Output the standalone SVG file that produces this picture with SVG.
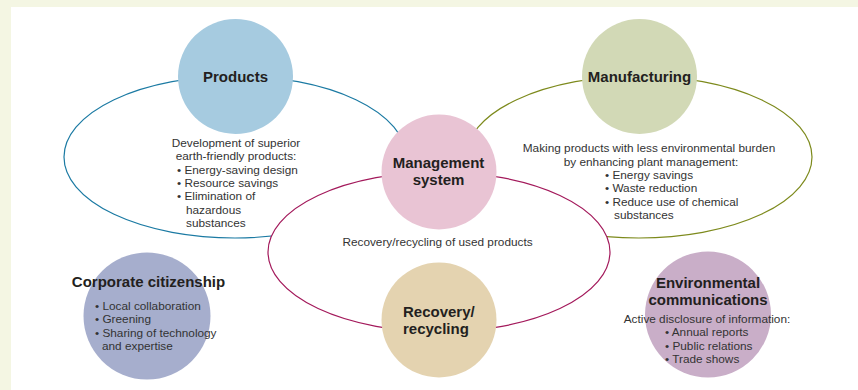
<svg xmlns="http://www.w3.org/2000/svg" width="858" height="390" viewBox="0 0 858 390">
<style>
.t{font-family:"Liberation Sans",Arial,sans-serif;font-weight:bold;font-size:15px;fill:#231f20}
.b{font-family:"Liberation Sans",Arial,sans-serif;font-size:11.8px;fill:#333333}
.c{text-anchor:middle}
.ring{stroke-width:1.2}
</style>
<rect x="0" y="0" width="858" height="390" fill="#f4f6e3"/>
<rect x="11" y="7" width="847" height="383" fill="#ffffff"/>
<g id="connectors">
<ellipse class="ring" cx="235" cy="157" rx="171" ry="81" fill="none" stroke="#1b7aa3"/>
<ellipse class="ring" cx="639" cy="157" rx="173" ry="81" fill="none" stroke="#7d8a1c"/>
<ellipse class="ring" cx="439" cy="252" rx="171" ry="80" fill="#ffffff" stroke="#a3195b"/>
</g>
<g id="products">
<circle cx="235.5" cy="76.5" r="57.5" fill="#a6cbe0"/>
<text class="t c" x="235.5" y="82">Products</text>
<text class="b c" x="236" y="147">Development of superior</text>
<text class="b c" x="236" y="160.3">earth-friendly products:</text>
<text class="b" x="177" y="173.6">• Energy-saving design</text>
<text class="b" x="177" y="186.9">• Resource savings</text>
<text class="b" x="177" y="200.2">• Elimination of</text>
<text class="b" x="186" y="213.5">hazardous</text>
<text class="b" x="186" y="226.8">substances</text>
</g>
<g id="manufacturing">
<circle cx="639.5" cy="76.5" r="57.5" fill="#d2d9b6"/>
<text class="t c" x="639.5" y="82">Manufacturing</text>
<text class="b c" x="649" y="152.3">Making products with less environmental burden</text>
<text class="b c" x="651" y="165.6">by enhancing plant management:</text>
<text class="b" x="605" y="178.9">• Energy savings</text>
<text class="b" x="605" y="192.2">• Waste reduction</text>
<text class="b" x="605" y="205.5">• Reduce use of chemical</text>
<text class="b" x="614" y="218.8">substances</text>
</g>
<g id="management">
<circle cx="439" cy="172" r="57.5" fill="#e9c4d4"/>
<text class="t c" x="438.5" y="168">Management</text>
<text class="t c" x="438.5" y="185">system</text>
</g>
<g id="recovery-label">
<text class="b c" x="437.5" y="246">Recovery/recycling of used products</text>
</g>
<g id="recovery">
<circle cx="439" cy="320" r="57.5" fill="#e4d3b0"/>
<text class="t" x="403" y="317">Recovery/</text>
<text class="t" x="403" y="334">recycling</text>
</g>
<g id="corporate">
<circle cx="147" cy="316" r="63.5" fill="#a6aecd"/>
<text class="t c" x="148.5" y="287">Corporate citizenship</text>
<text class="b" x="95" y="310">• Local collaboration</text>
<text class="b" x="95" y="323.3">• Greening</text>
<text class="b" x="95" y="336.6">• Sharing of technology</text>
<text class="b" x="102" y="349.9">and expertise</text>
</g>
<g id="environmental">
<circle cx="708" cy="314.5" r="63" fill="#c9aec8"/>
<text class="t c" x="708" y="288">Environmental</text>
<text class="t c" x="708" y="305">communications</text>
<text class="b c" x="707" y="322.5">Active disclosure of information:</text>
<text class="b" x="665" y="336">• Annual reports</text>
<text class="b" x="665" y="349.5">• Public relations</text>
<text class="b" x="665" y="363">• Trade shows</text>
</g>
</svg>
